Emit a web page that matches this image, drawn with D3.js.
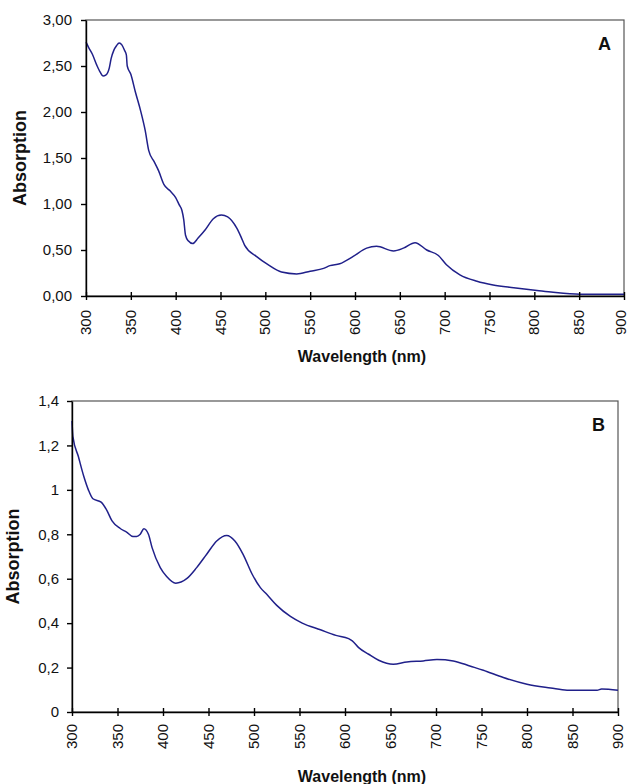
<!DOCTYPE html>
<html>
<head>
<meta charset="utf-8">
<script src="https://cdn.jsdelivr.net/npm/d3@7"></script>
<style>
  body { margin: 0; background: #fff; }
  svg text { font-family: "Liberation Sans", Arial, sans-serif; fill: #111; }
</style>
</head>
<body>
<div id="chart"></div>
<script>
// Spectrum A
const waveA = [300, 303, 307, 312, 316, 319, 322, 326, 328, 331, 334, 337, 340, 343, 345, 346, 350, 355, 361, 366,
  370, 376, 381, 387, 394, 400, 404, 407, 409, 411, 414, 419, 425, 433, 442, 451, 458, 468, 473, 477,
  490, 503, 518, 535, 550, 565, 572, 583, 598, 613, 624, 643, 654, 667, 680, 693, 702, 717, 736, 754,
  777, 803, 821, 851, 900];
const absA = [2.76, 2.70, 2.63, 2.51, 2.43, 2.39, 2.40, 2.48, 2.58, 2.67, 2.72, 2.75, 2.73, 2.67, 2.62, 2.50, 2.41, 2.22, 2.01, 1.80,
  1.58, 1.46, 1.36, 1.21, 1.14, 1.07, 0.99, 0.93, 0.83, 0.66, 0.60, 0.57, 0.63, 0.72, 0.84, 0.88, 0.86, 0.74, 0.64, 0.55,
  0.43, 0.34, 0.26, 0.24, 0.27, 0.30, 0.33, 0.35, 0.43, 0.52, 0.54, 0.49, 0.52, 0.58, 0.50, 0.44, 0.34, 0.23, 0.16, 0.12,
  0.09, 0.06, 0.04, 0.02, 0.02];

// Spectrum B
const waveB = [300, 301, 307, 313, 318, 323, 332, 338, 344, 353, 360, 367, 371, 375, 379, 384, 388, 397, 404, 414,
  426, 437, 448, 459, 470, 479, 488, 498, 507, 514, 525, 540, 553, 573, 590, 604, 608, 615, 626, 637,
  653, 668, 686, 701, 719, 738, 752, 774, 800, 826, 844, 877, 882, 900];
const absB = [1.31, 1.24, 1.15, 1.06, 1.00, 0.96, 0.945, 0.91, 0.86, 0.826, 0.81, 0.79, 0.79, 0.80, 0.825, 0.80, 0.74, 0.65, 0.61, 0.58,
  0.60, 0.65, 0.71, 0.77, 0.795, 0.77, 0.71, 0.62, 0.56, 0.53, 0.48, 0.43, 0.40, 0.37, 0.345, 0.33, 0.32, 0.29, 0.26, 0.233,
  0.215, 0.225, 0.23, 0.236, 0.23, 0.206, 0.188, 0.155, 0.125, 0.108, 0.098, 0.098, 0.104, 0.098];

// Ticks and labels
const xTicks = [300, 350, 400, 450, 500, 550, 600, 650, 700, 750, 800, 850, 900];
const xLabels = ["300", "350", "400", "450", "500", "550", "600", "650", "700", "750", "800", "850", "900"];
const yTicksA = [0, 0.5, 1, 1.5, 2, 2.5, 3];
const yLabelsA = ["0,00", "0,50", "1,00", "1,50", "2,00", "2,50", "3,00"];
const yTicksB = [0, 0.2, 0.4, 0.6, 0.8, 1, 1.2, 1.4];
const yLabelsB = ["0", "0,2", "0,4", "0,6", "0,8", "1", "1,2", "1,4"];

const width = 629, height = 784;

const svg = d3.select("#chart").append("svg")
    .attr("width", width)
    .attr("height", height);

// Draw one panel
function drawPanel(opt) {
  const x = d3.scaleLinear().domain([300, 900]).range([opt.left, opt.right]);
  const y = d3.scaleLinear().domain([0, opt.yMax]).range([opt.bottom, opt.top]);
  const g = svg.append("g");

  // gray frame (top/right)
  g.append("rect")
      .attr("x", opt.left)
      .attr("y", opt.top)
      .attr("width", opt.right - opt.left)
      .attr("height", opt.bottom - opt.top)
      .attr("fill", "none")
      .attr("stroke", "#555")
      .attr("stroke-width", 1.2);

  // spectrum line
  const data = opt.wave.map((w, i) => ({ w: w, a: opt.abs[i] }));
  const line = d3.line()
      .x(d => x(d.w))
      .y(d => y(d.a))
      .curve(d3.curveMonotoneX);

  g.append("path")
      .datum(data)
      .attr("fill", "none")
      .attr("stroke", "#20208a")
      .attr("stroke-width", 1.5)
      .attr("d", line);

  // Y axis
  const yAxis = g.append("g")
      .attr("transform", `translate(${opt.left},0)`)
      .call(d3.axisLeft(y)
        .tickValues(opt.yTicks)
        .tickFormat((d, i) => opt.yLabels[i])
        .tickSizeInner(5)
        .tickSizeOuter(0)
        .tickPadding(opt.yPad));
  yAxis.selectAll("text")
      .style("font-size", "15px")
      .attr("fill", "#111");

  // X axis, ticks cross the axis line
  const xAxis = g.append("g")
      .attr("transform", `translate(0,${opt.bottom})`)
      .call(d3.axisBottom(x)
        .tickValues(xTicks)
        .tickFormat((d, i) => xLabels[i])
        .tickSizeOuter(0));
  xAxis.selectAll(".tick line")
      .attr("y1", -4)
      .attr("y2", 4);
  // last label sits at the page edge, pull it in a little
  xAxis.selectAll(".tick text")
      .attr("transform", "rotate(-90)")
      .attr("x", -opt.xPad)
      .attr("y", 0)
      .attr("dy", (d, i) => (i === xTicks.length - 1 && opt.right > 620) ? "0.12em" : "0.3em")
      .style("text-anchor", "end")
      .style("font-size", "15px")
      .attr("fill", "#111");

  g.selectAll(".domain, .tick line")
      .attr("stroke", "#000")
      .attr("stroke-width", 1.4);

  // Axis titles
  g.append("text")
      .attr("x", 362)
      .attr("y", opt.xTitleY)
      .style("text-anchor", "middle")
      .style("font-size", "16px")
      .style("font-weight", "bold")
      .text("Wavelength (nm)");

  g.append("text")
      .attr("transform", `translate(${opt.yTitleX},${(opt.top + opt.bottom) / 2}) rotate(-90)`)
      .style("text-anchor", "middle")
      .style("font-size", "18px")
      .style("font-weight", "bold")
      .text("Absorption");

  // Panel letter
  g.append("text")
      .attr("x", opt.right - 13)
      .attr("y", opt.top + 30)
      .style("text-anchor", "end")
      .style("font-size", "18px")
      .style("font-weight", "bold")
      .text(opt.letter);
}

drawPanel({
  left: 86, right: 624, top: 20, bottom: 296, yMax: 3,
  wave: waveA, abs: absA, yTicks: yTicksA, yLabels: yLabelsA,
  yPad: 9, xPad: 14, xTitleY: 362, yTitleX: 26, letter: "A"
});

drawPanel({
  left: 72, right: 618, top: 401, bottom: 712, yMax: 1.4,
  wave: waveB, abs: absB, yTicks: yTicksB, yLabels: yLabelsB,
  yPad: 8, xPad: 12, xTitleY: 782, yTitleX: 19, letter: "B"
});
</script>
</body>
</html>
